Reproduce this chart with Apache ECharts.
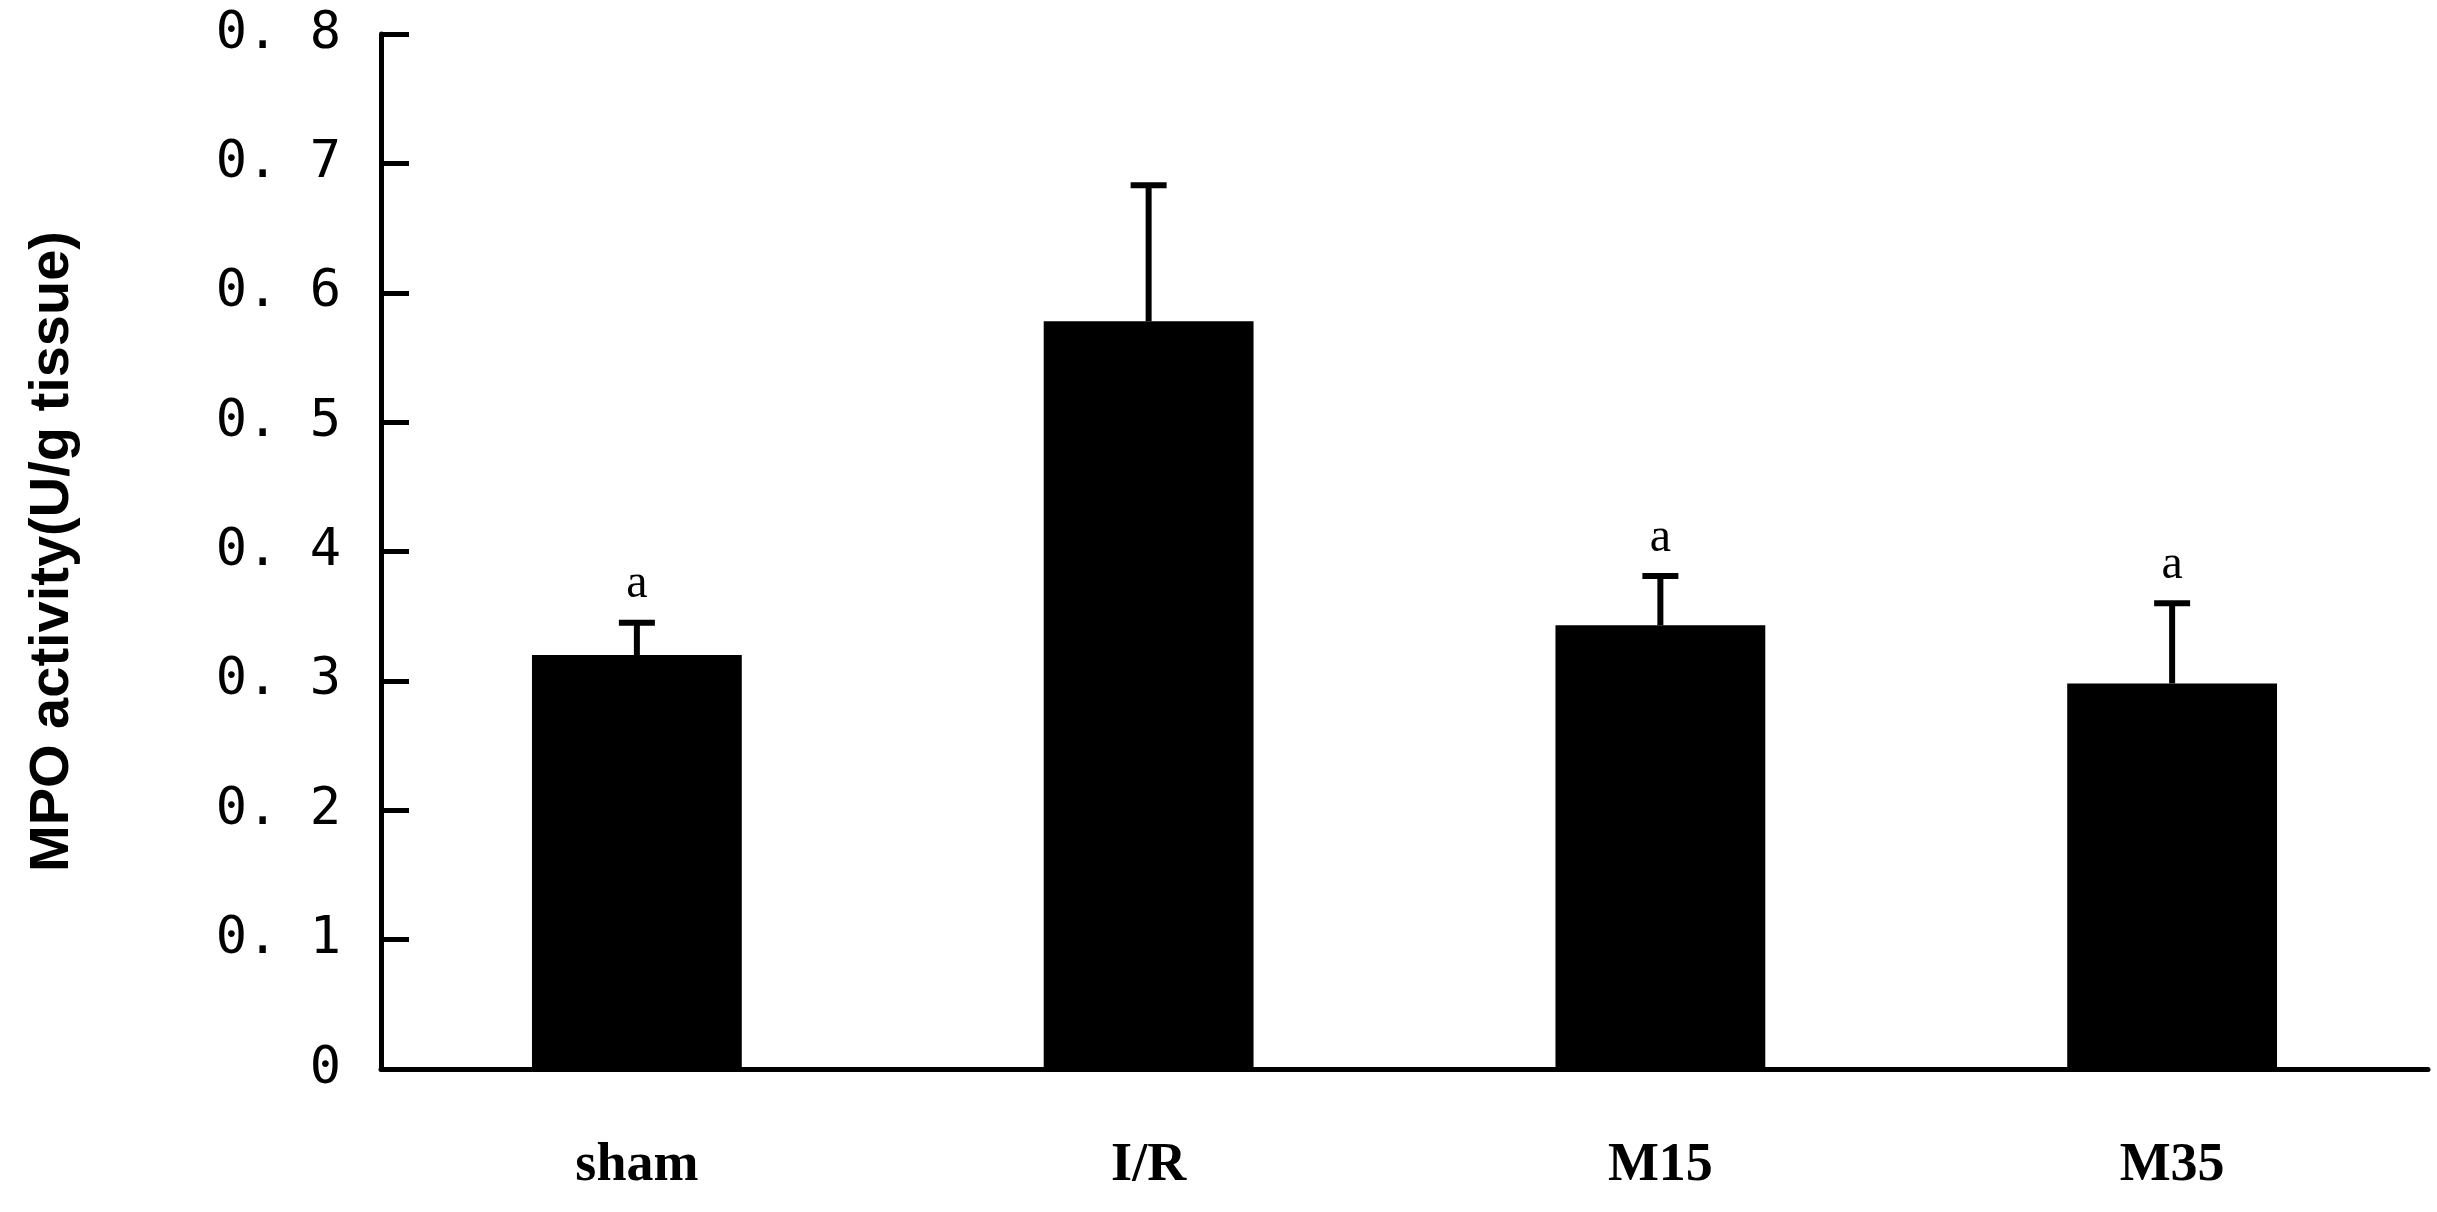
<!DOCTYPE html>
<html><head><meta charset="utf-8">
<script src="https://cdn.jsdelivr.net/npm/echarts@6/dist/echarts.min.js"></script>
<style>html,body{margin:0;background:#fff}#c{width:2437px;height:1212px}</style>
</head><body><div id="c"></div>
<script>
const categories = ['sham', 'I/R', 'M15', 'M35'];
const means = [0.320, 0.578, 0.343, 0.298];
const errTops = [0.345, 0.683, 0.381, 0.360];
const marks = ['a', '', 'a', 'a'];
const yTicks = ['0', '0. 1', '0. 2', '0. 3', '0. 4', '0. 5', '0. 6', '0. 7', '0. 8'];

const chart = echarts.init(document.getElementById('c'));
chart.setOption({
  animation: false,
  grid: {left: 381, right: 9, top: 34, bottom: 143},
  xAxis: {
    type: 'category', data: categories,
    axisLine: {lineStyle: {color: '#000', width: 5}},
    axisTick: {inside: true, length: 24, lineStyle: {color: '#000', width: 5}},
    axisLabel: {color: '#000', fontFamily: 'Liberation Serif, serif', fontWeight: 'bold', fontSize: 54, margin: 70}
  },
  yAxis: {
    type: 'value', min: 0, max: 0.8, interval: 0.1,
    name: 'MPO activity(U/g tissue)', nameLocation: 'middle', nameGap: 300,
    nameTextStyle: {color: '#000', fontFamily: 'Liberation Sans, Arial', fontWeight: 'bold', fontSize: 56},
    splitLine: {show: false},
    axisLine: {show: true, lineStyle: {color: '#000', width: 5}},
    axisTick: {show: true, inside: true, length: 28, lineStyle: {color: '#000', width: 5}},
    axisLabel: {color: '#000', fontFamily: 'DejaVu Sans Mono, monospace', fontSize: 52, margin: 40,
      formatter: (v, i) => yTicks[i]}
  },
  series: [
    {type: 'bar', data: means, barWidth: '41%',
     itemStyle: {color: '#000', borderColor: '#000', borderWidth: 3}},
    {type: 'custom', z: 5,
     data: means.map((m, i) => [i, m, errTops[i]]),
     renderItem: (params, api) => {
       const p0 = api.coord([api.value(0), api.value(1)]);
       const p1 = api.coord([api.value(0), api.value(2)]);
       const cap = 18;
       const children = [
         {type: 'line', shape: {x1: p0[0], y1: p0[1], x2: p1[0], y2: p1[1]}, style: {stroke: '#000', lineWidth: 6}},
         {type: 'line', shape: {x1: p1[0] - cap, y1: p1[1], x2: p1[0] + cap, y2: p1[1]}, style: {stroke: '#000', lineWidth: 6}}
       ];
       const t = marks[params.dataIndex];
       if (t) children.push({type: 'text', style: {text: t, x: p1[0], y: p1[1] - 14, align: 'center', verticalAlign: 'bottom',
         fill: '#000', font: '48px "Liberation Serif", serif'}});
       return {type: 'group', children};
     }}
  ]
});
</script></body></html>
